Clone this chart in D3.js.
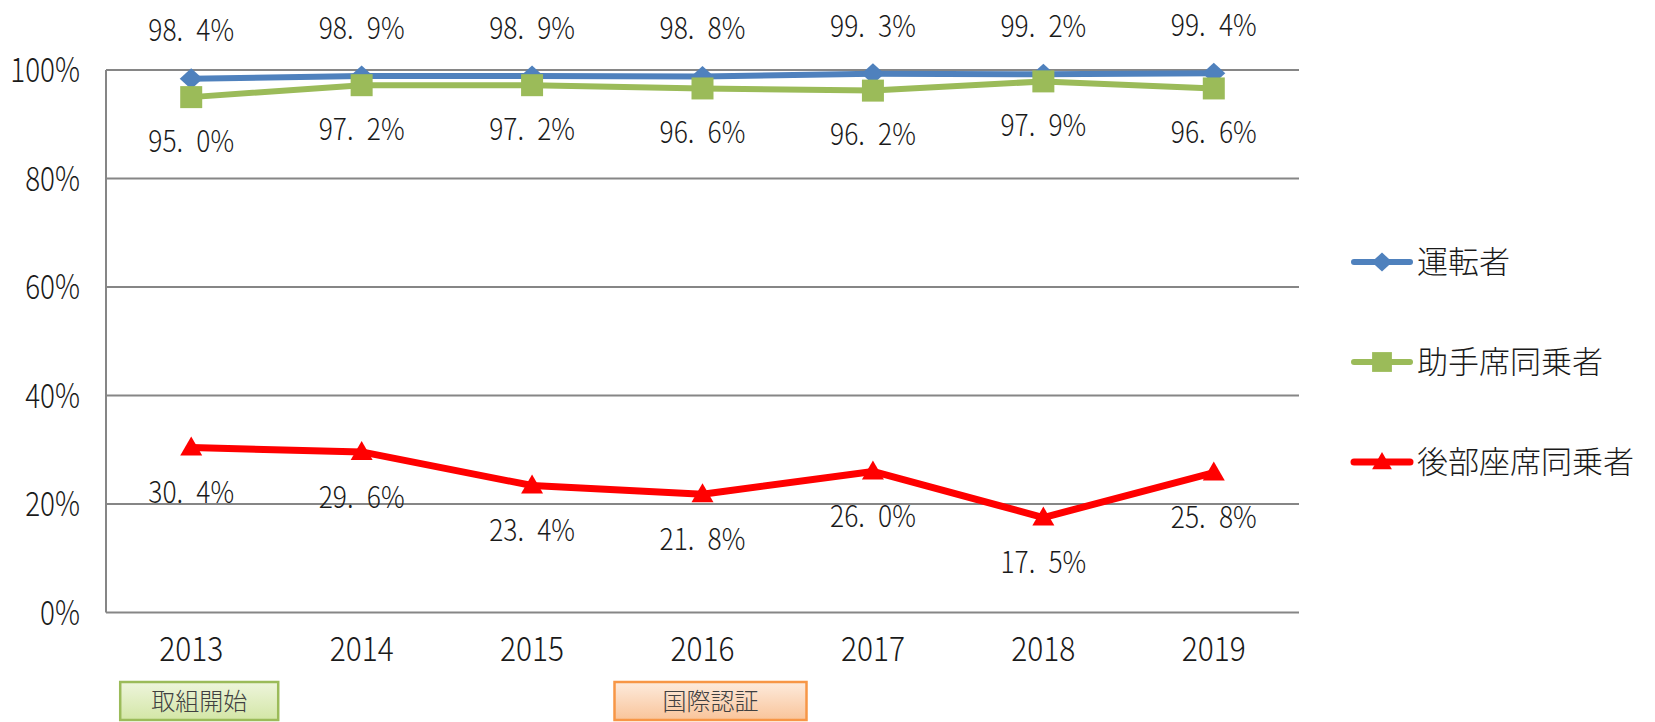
<!DOCTYPE html>
<html><head><meta charset="utf-8">
<script src="https://cdn.jsdelivr.net/npm/d3@7"></script>
<style>html,body{margin:0;padding:0;background:#fff;}svg{display:block;}</style>
</head><body>
<svg id="c" width="1655" height="722"></svg>
<script>
const years = ["2013","2014","2015","2016","2017","2018","2019"];
const driver = [98.4, 98.9, 98.9, 98.8, 99.3, 99.2, 99.4];
const passenger = [95.0, 97.2, 97.2, 96.6, 96.2, 97.9, 96.6];
const rear = [30.4, 29.6, 23.4, 21.8, 26.0, 17.5, 25.8];
const seriesNames = ["運転者", "助手席同乗者", "後部座席同乗者"];
const yTicks = [0, 20, 40, 60, 80, 100];
const notes = [{year: "2013", text: "取組開始"}, {year: "2016", text: "国際認証"}];

const svg = d3.select("#c");
const L = 106, R = 1299, T = 70, B = 612.5;
const x = d3.scaleBand().domain(years).range([L, R]);
const xc = d => x(d) + x.bandwidth() / 2;
const y = d3.scaleLinear().domain([0, 100]).range([B, T]);
const NUMFONT = "'Noto Sans CJK JP', 'Liberation Sans', sans-serif";

function numText(g, px, py, str, size, anchor, sx) {
  return g.append("text")
    .attr("transform", `translate(${px},${py}) scale(${sx},1)`)
    .attr("text-anchor", anchor)
    .attr("dy", "0.36em")
    .attr("font-family", NUMFONT)
    .attr("font-weight", 300)
    .attr("font-size", size)
    .attr("fill", "#1a1a1a")
    .text(str);
}

// gridlines
const grid = svg.append("g");
grid.selectAll("line").data(yTicks).join("line")
  .attr("x1", L).attr("x2", R)
  .attr("y1", d => y(d)).attr("y2", d => y(d))
  .attr("stroke", "#868686").attr("stroke-width", 2);
svg.append("line").attr("x1", L).attr("x2", L).attr("y1", y(100)).attr("y2", y(0))
  .attr("stroke", "#868686").attr("stroke-width", 2);

// y labels
const yl = svg.append("g");
yTicks.forEach(t => numText(yl, 80, y(t), t + "%", 34, "end", 0.82));
// x labels
const xl = svg.append("g");
years.forEach(yr => numText(xl, xc(yr), 649, yr, 34, "middle", 0.88));

const series = [
  {name: seriesNames[0], values: driver, color: "#4F81BD", width: 6, marker: "diamond", labelDy: -48},
  {name: seriesNames[1], values: passenger, color: "#9BBB59", width: 6, marker: "square", labelDy: 44},
  {name: seriesNames[2], values: rear, color: "#FF0000", width: 7, marker: "triangle", labelDy: 45}
];

function markerPath(type) {
  if (type === "diamond") return "M-11.5,0 L0,-10.5 L11.5,0 L0,10.5 Z";
  if (type === "square") return "M-11,-11 L11,-11 L11,11 L-11,11 Z";
  return "M0,-11 L11,8 L-11,8 Z";
}

const line = d3.line().x((d, i) => xc(years[i])).y(d => y(d));
series.forEach(s => {
  svg.append("path").datum(s.values).attr("d", line)
    .attr("fill", "none").attr("stroke", s.color).attr("stroke-width", s.width)
    .attr("stroke-linejoin", "round").attr("stroke-linecap", "round");
  svg.append("g").selectAll("path").data(s.values).join("path")
    .attr("transform", (d, i) => `translate(${xc(years[i])},${y(d)})`)
    .attr("d", markerPath(s.marker)).attr("fill", s.color);
});
// data labels
const lab = svg.append("g");
series.forEach(s => {
  s.values.forEach((v, i) => {
    numText(lab, xc(years[i]), y(v) + s.labelDy, d3.format(".1f")(v).replace(".", ".\u2002") + "%", 30, "middle", 0.88);
  });
});

// legend
const lg = svg.append("g");
series.forEach((s, i) => {
  const ly = 262 + i * 100;
  lg.append("line").attr("x1", 1354).attr("x2", 1410).attr("y1", ly).attr("y2", ly)
    .attr("stroke", s.color).attr("stroke-width", s.width).attr("stroke-linecap", "round");
  lg.append("path").attr("transform", `translate(1382,${ly}) scale(0.9)`)
    .attr("d", markerPath(s.marker)).attr("fill", s.color);
  lg.append("text").attr("x", 1417).attr("y", ly).attr("dy", "0.36em")
    .attr("font-family", "'Noto Sans CJK JP', sans-serif").attr("font-weight", 300).attr("font-size", 31)
    .attr("fill", "#1a1a1a").text(s.name);
});

// annotation boxes
const defs = svg.append("defs");
const g1 = defs.append("linearGradient").attr("id", "gg").attr("x1", 0).attr("x2", 0).attr("y1", 0).attr("y2", 1);
g1.append("stop").attr("offset", "0").attr("stop-color", "#EEF5DC");
g1.append("stop").attr("offset", "1").attr("stop-color", "#D3E6A6");
const g2 = defs.append("linearGradient").attr("id", "go").attr("x1", 0).attr("x2", 0).attr("y1", 0).attr("y2", 1);
g2.append("stop").attr("offset", "0").attr("stop-color", "#FDEBDD");
g2.append("stop").attr("offset", "1").attr("stop-color", "#F9C49A");
const boxStyle = [{w: 158, fill: "url(#gg)", stroke: "#9BBB59"}, {w: 192, fill: "url(#go)", stroke: "#F79646"}];
notes.forEach((n, i) => {
  const cx = xc(n.year) + 8, st = boxStyle[i];
  svg.append("rect").attr("x", cx - st.w / 2).attr("y", 682).attr("width", st.w).attr("height", 38)
    .attr("fill", st.fill).attr("stroke", st.stroke).attr("stroke-width", 2.5);
  svg.append("text").attr("x", cx).attr("y", 701).attr("dy", "0.36em").attr("text-anchor", "middle")
    .attr("font-family", "'Noto Sans CJK JP', sans-serif").attr("font-weight", 300).attr("font-size", 24)
    .attr("fill", "#404040").text(n.text);
});
</script>
</body></html>
